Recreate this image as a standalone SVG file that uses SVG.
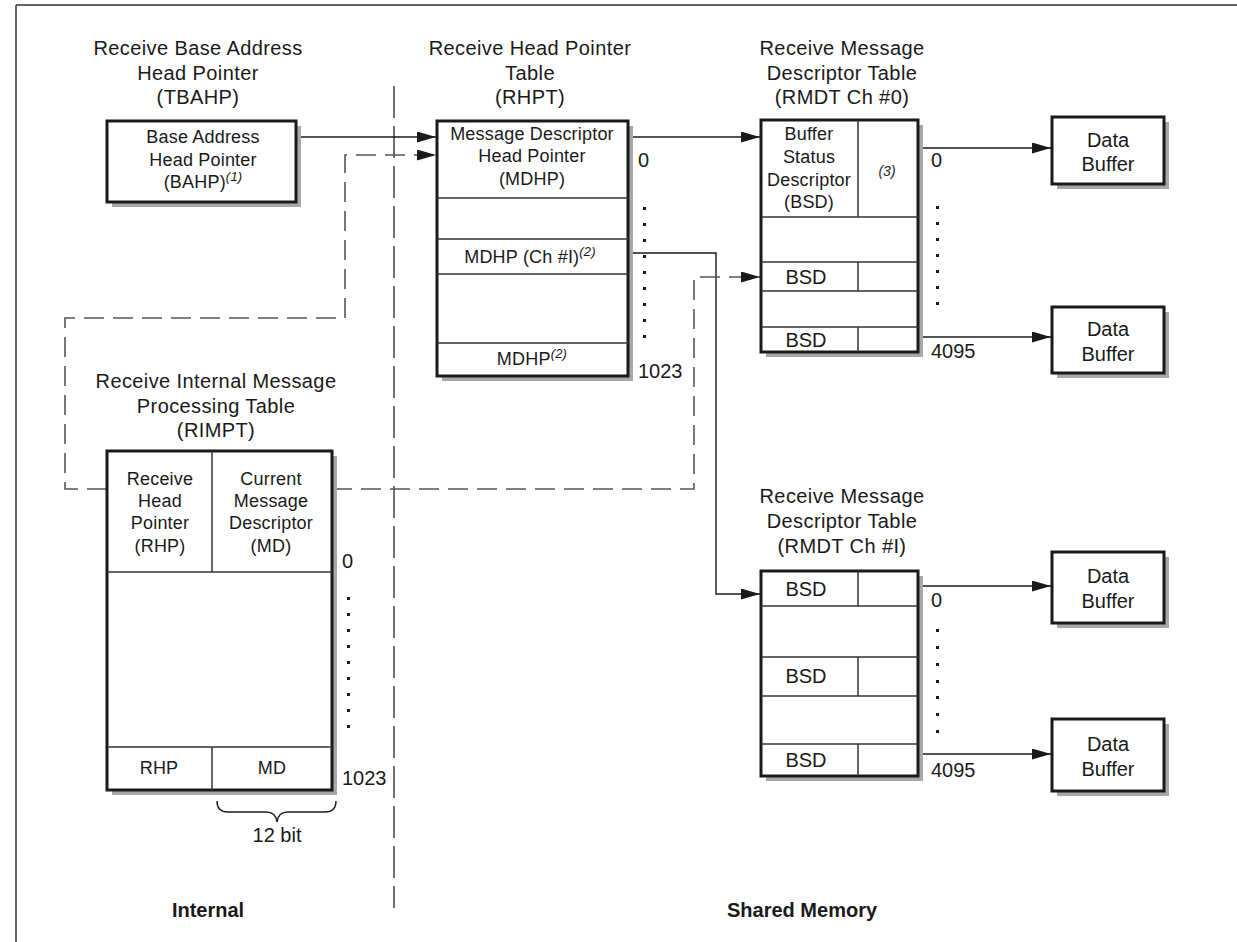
<svg xmlns="http://www.w3.org/2000/svg" width="1237" height="942" viewBox="0 0 1237 942">
<style>
text{font-family:"Liberation Sans",Arial,sans-serif;fill:#1a1a1a}
.t{font-size:20px;letter-spacing:0.4px;text-anchor:middle}
.i{font-size:18px;letter-spacing:0.2px;text-anchor:middle}
.b{font-size:20px;text-anchor:middle}
.n{font-size:20px}
.sup{font-size:13px;font-style:italic}
.it{font-size:14px;font-style:italic;text-anchor:middle}
.bold{font-size:20px;font-weight:bold}
.box{fill:#fff;stroke:#1a1a1a;stroke-width:3}
.sh{fill:#a8a8a8}
.ln{stroke:#333;stroke-width:1.5;fill:none}
.c{stroke:#1a1a1a;stroke-width:1.4;fill:none}
.d{stroke:#555;stroke-width:1.6;fill:none;stroke-dasharray:20 9}
.dot{fill:#1a1a1a}
</style>
<defs>
<marker id="ah" markerUnits="userSpaceOnUse" markerWidth="20" markerHeight="12" refX="19" refY="5.5" orient="auto">
<path d="M0,0 L19,5.5 L0,11 z" fill="#1a1a1a"/>
</marker>
</defs>

<g id="frame">
<line x1="16" y1="5" x2="1237" y2="5" stroke="#333" stroke-width="1.5"/>
<line x1="16" y1="5" x2="16" y2="942" stroke="#333" stroke-width="1.5"/>
<line x1="394" y1="86" x2="394" y2="908" stroke="#333" stroke-width="1.4" stroke-dasharray="32 8"/>
</g>

<g id="connectors">
<path class="c" d="M296,137 H436" marker-end="url(#ah)"/>
<path class="d" d="M107,489 H65 V318 H345 V155 H436" marker-end="url(#ah)"/>
<path class="c" d="M628,137 H760" marker-end="url(#ah)"/>
<path class="c" d="M628,253 H716 V594 H760" marker-end="url(#ah)"/>
<path class="d" d="M332,489 H694 V277 H760" marker-end="url(#ah)"/>
<path class="c" d="M918,148 H1051" marker-end="url(#ah)"/>
<path class="c" d="M918,337 H1051" marker-end="url(#ah)"/>
<path class="c" d="M918,586 H1051" marker-end="url(#ah)"/>
<path class="c" d="M918,754 H1051" marker-end="url(#ah)"/>
</g>

<g id="tbahp">
<text class="t" x="198" y="55">Receive Base Address</text>
<text class="t" x="198" y="80">Head Pointer</text>
<text class="t" x="198" y="104">(TBAHP)</text>
<rect class="sh" x="112" y="126" width="189" height="81"/>
<rect class="box" x="107" y="121" width="189" height="81"/>
<text class="i" x="203" y="143">Base Address</text>
<text class="i" x="203" y="166">Head Pointer</text>
<text class="i" x="203" y="188">(BAHP)<tspan class="sup" dy="-7">(1)</tspan></text>
</g>

<g id="rhpt">
<text class="t" x="530" y="55">Receive Head Pointer</text>
<text class="t" x="530" y="80">Table</text>
<text class="t" x="530" y="104">(RHPT)</text>
<rect class="sh" x="442" y="126" width="191" height="255"/>
<rect class="box" x="437" y="121" width="191" height="255"/>
<line class="ln" x1="437" y1="198" x2="628" y2="198"/>
<line class="ln" x1="437" y1="239" x2="628" y2="239"/>
<line class="ln" x1="437" y1="274" x2="628" y2="274"/>
<line class="ln" x1="437" y1="343" x2="628" y2="343"/>
<text class="i" x="532" y="140">Message Descriptor</text>
<text class="i" x="532" y="162">Head Pointer</text>
<text class="i" x="532" y="185">(MDHP)</text>
<text class="i" x="530" y="263">MDHP (Ch #I)<tspan class="sup" dy="-7">(2)</tspan></text>
<text class="i" x="532" y="365">MDHP<tspan class="sup" dy="-7">(2)</tspan></text>
<text class="n" x="638" y="167">0</text>
<text class="n" x="638" y="378">1023</text>
<g class="dot">
<rect x="643" y="207" width="3" height="3"/><rect x="643" y="223" width="3" height="3"/><rect x="643" y="239" width="3" height="3"/>
<rect x="643" y="255" width="3" height="3"/><rect x="643" y="271" width="3" height="3"/><rect x="643" y="287" width="3" height="3"/>
<rect x="643" y="303" width="3" height="3"/><rect x="643" y="319" width="3" height="3"/><rect x="643" y="335" width="3" height="3"/>
</g>
</g>

<g id="rmdt0">
<text class="t" x="842" y="55">Receive Message</text>
<text class="t" x="842" y="80">Descriptor Table</text>
<text class="t" x="842" y="104">(RMDT Ch #0)</text>
<rect class="sh" x="766" y="125" width="157" height="232"/>
<rect class="box" x="761" y="120" width="157" height="232"/>
<line class="ln" x1="858" y1="120" x2="858" y2="217"/>
<line class="ln" x1="761" y1="217" x2="918" y2="217"/>
<line class="ln" x1="761" y1="262" x2="918" y2="262"/>
<line class="ln" x1="858" y1="262" x2="858" y2="291"/>
<line class="ln" x1="761" y1="291" x2="918" y2="291"/>
<line class="ln" x1="761" y1="327" x2="918" y2="327"/>
<line class="ln" x1="858" y1="327" x2="858" y2="352"/>
<text class="i" x="809" y="140">Buffer</text>
<text class="i" x="809" y="163">Status</text>
<text class="i" x="809" y="186">Descriptor</text>
<text class="i" x="809" y="208">(BSD)</text>
<text class="it" x="887" y="176">(3)</text>
<text class="b" x="806" y="284">BSD</text>
<text class="b" x="806" y="347">BSD</text>
<text class="n" x="931" y="167">0</text>
<text class="n" x="931" y="358">4095</text>
<g class="dot">
<rect x="936" y="206" width="3" height="3"/><rect x="936" y="222" width="3" height="3"/><rect x="936" y="238" width="3" height="3"/>
<rect x="936" y="254" width="3" height="3"/><rect x="936" y="270" width="3" height="3"/><rect x="936" y="286" width="3" height="3"/>
<rect x="936" y="302" width="3" height="3"/>
</g>
</g>

<g id="buf1">
<rect class="sh" x="1057" y="122" width="112" height="67"/>
<rect class="box" x="1052" y="117" width="112" height="67"/>
<text class="b" x="1108" y="147">Data</text>
<text class="b" x="1108" y="171">Buffer</text>
</g>
<g id="buf2">
<rect class="sh" x="1057" y="312" width="112" height="66"/>
<rect class="box" x="1052" y="307" width="112" height="66"/>
<text class="b" x="1108" y="336">Data</text>
<text class="b" x="1108" y="361">Buffer</text>
</g>

<g id="rmdtI">
<text class="t" x="842" y="503">Receive Message</text>
<text class="t" x="842" y="528">Descriptor Table</text>
<text class="t" x="842" y="553">(RMDT Ch #I)</text>
<rect class="sh" x="766" y="576" width="157" height="205"/>
<rect class="box" x="761" y="571" width="157" height="205"/>
<line class="ln" x1="858" y1="571" x2="858" y2="606"/>
<line class="ln" x1="761" y1="606" x2="918" y2="606"/>
<line class="ln" x1="761" y1="657" x2="918" y2="657"/>
<line class="ln" x1="858" y1="657" x2="858" y2="696"/>
<line class="ln" x1="761" y1="696" x2="918" y2="696"/>
<line class="ln" x1="761" y1="744" x2="918" y2="744"/>
<line class="ln" x1="858" y1="744" x2="858" y2="776"/>
<text class="b" x="806" y="596">BSD</text>
<text class="b" x="806" y="683">BSD</text>
<text class="b" x="806" y="767">BSD</text>
<text class="n" x="931" y="607">0</text>
<text class="n" x="931" y="777">4095</text>
<g class="dot">
<rect x="936" y="629" width="3" height="3"/><rect x="936" y="646" width="3" height="3"/><rect x="936" y="663" width="3" height="3"/>
<rect x="936" y="680" width="3" height="3"/><rect x="936" y="696" width="3" height="3"/><rect x="936" y="713" width="3" height="3"/>
<rect x="936" y="730" width="3" height="3"/>
</g>
</g>

<g id="buf3">
<rect class="sh" x="1057" y="557" width="112" height="71"/>
<rect class="box" x="1052" y="552" width="112" height="71"/>
<text class="b" x="1108" y="583">Data</text>
<text class="b" x="1108" y="608">Buffer</text>
</g>
<g id="buf4">
<rect class="sh" x="1057" y="724" width="112" height="72"/>
<rect class="box" x="1052" y="719" width="112" height="72"/>
<text class="b" x="1108" y="751">Data</text>
<text class="b" x="1108" y="776">Buffer</text>
</g>

<g id="rimpt">
<text class="t" x="216" y="388">Receive Internal Message</text>
<text class="t" x="216" y="413">Processing Table</text>
<text class="t" x="216" y="437">(RIMPT)</text>
<rect class="sh" x="112" y="456" width="225" height="339"/>
<rect class="box" x="107" y="451" width="225" height="339"/>
<line class="ln" x1="212" y1="451" x2="212" y2="572"/>
<line class="ln" x1="107" y1="572" x2="332" y2="572"/>
<line class="ln" x1="107" y1="747" x2="332" y2="747"/>
<line class="ln" x1="212" y1="747" x2="212" y2="790"/>
<text class="i" x="160" y="485">Receive</text>
<text class="i" x="160" y="507">Head</text>
<text class="i" x="160" y="529">Pointer</text>
<text class="i" x="160" y="552">(RHP)</text>
<text class="i" x="271" y="485">Current</text>
<text class="i" x="271" y="507">Message</text>
<text class="i" x="271" y="529">Descriptor</text>
<text class="i" x="271" y="552">(MD)</text>
<text class="i" x="159" y="774">RHP</text>
<text class="i" x="272" y="774">MD</text>
<text class="n" x="342" y="568">0</text>
<text class="n" x="342" y="785">1023</text>
<g class="dot">
<rect x="347" y="597" width="3" height="3"/><rect x="347" y="613" width="3" height="3"/><rect x="347" y="629" width="3" height="3"/>
<rect x="347" y="645" width="3" height="3"/><rect x="347" y="661" width="3" height="3"/><rect x="347" y="677" width="3" height="3"/>
<rect x="347" y="693" width="3" height="3"/><rect x="347" y="709" width="3" height="3"/><rect x="347" y="725" width="3" height="3"/>
</g>
<path class="c" d="M217,801 Q217,812 228,812 L266,812 Q276,812 277,822 Q278,812 288,812 L325,812 Q336,812 336,801"/>
<text class="b" x="277" y="842">12 bit</text>
</g>

<g id="labels">
<text class="bold" x="208" y="917" text-anchor="middle">Internal</text>
<text class="bold" x="727" y="917">Shared Memory</text>
</g>
</svg>
